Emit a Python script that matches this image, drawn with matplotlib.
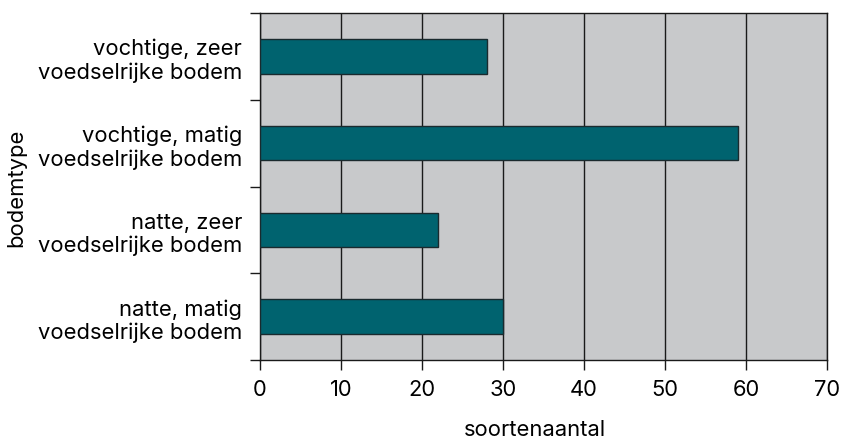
import matplotlib
matplotlib.use("Agg")
import matplotlib.pyplot as plt
import numpy as np

categories = ["natte, matig\nvoedselrijke bodem",
              "natte, zeer\nvoedselrijke bodem",
              "vochtige, matig\nvoedselrijke bodem",
              "vochtige, zeer\nvoedselrijke bodem"]
values = [30, 22, 59, 28]
xticks = [0, 10, 20, 30, 40, 50, 60, 70]

plt.rcParams['font.family'] = ['Inter', 'DejaVu Sans']
FS = 15.8

fig = plt.figure(figsize=(8.42, 4.39), dpi=100)
ax = fig.add_axes([260/842, 1 - 361/439, (827-260)/842, (361-14)/439])
ax.set_facecolor('#c8c9cb')

y = np.arange(len(categories))
ax.barh(y, values, height=0.4, color='#00636f', edgecolor='#1a2a2e', linewidth=1, zorder=3)

ax.set_xlim(0, 70)
ax.set_ylim(-0.5, len(categories) - 0.5)
ax.set_xticks(xticks)
ax.set_xticklabels([str(v) for v in xticks], fontsize=FS)
ax.xaxis.grid(True, color='#1a1a1a', linewidth=1, zorder=1)
ax.set_axisbelow(True)

ax.set_yticks(y)
ax.set_yticklabels(categories, fontsize=FS, ha='right', linespacing=1.2)
ax.tick_params(axis='y', which='major', length=0, pad=13)
ax.set_yticks(np.arange(-0.5, len(categories), 1.0), minor=True)
ax.tick_params(axis='y', which='minor', length=7, width=1, color='#1a1a1a')
ax.tick_params(axis='x', length=7, width=1, color='#1a1a1a', pad=7)

for s in ax.spines.values():
    s.set_color('#1a1a1a')
    s.set_linewidth(1)

ax.set_xlabel("soortenaantal", fontsize=FS, va='baseline')
ax.xaxis.set_label_coords((535 - 260) / 567, -(436 - 361) / 347)
ax.set_ylabel("bodemtype", fontsize=FS)
ax.yaxis.set_label_coords(-234/567, 0.5)

fig.savefig("out.png", dpi=100)
